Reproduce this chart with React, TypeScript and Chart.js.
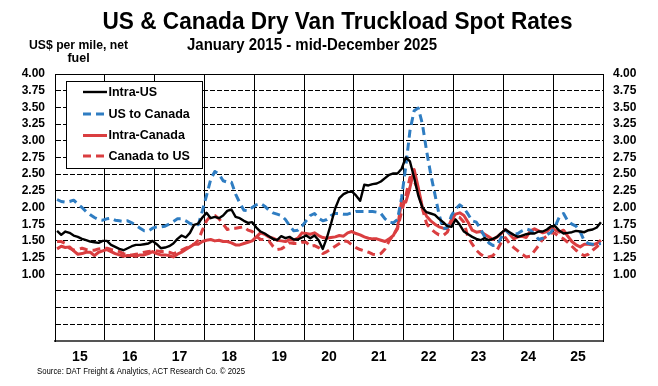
import React, { useEffect, useRef } from 'react';
import { Chart, registerables } from 'chart.js';

Chart.register(...registerables);

const FONT = '"Liberation Sans", Arial, Helvetica, sans-serif';

const TITLE = 'US & Canada Dry Van Truckload Spot Rates';
const SUBTITLE = 'January 2015 - mid-December 2025';
const Y_TITLE = ['US$ per mile, net', 'fuel'];
const SOURCE = 'Source: DAT Freight & Analytics, ACT Research Co. \u00a9 2025';

const START_YEAR = 2015;
const END_YEAR = 2026;
const yearLabels = ['15', '16', '17', '18', '19', '20', '21', '22', '23', '24', '25'];
const seriesNames = ['Intra-US', 'US to Canada', 'Intra-Canada', 'Canada to US'];

// Monthly values, Jan 2015 .. Dec 2025 (US$ per mile, net fuel)
const intraUS = [
  1.65, 1.59, 1.64, 1.62, 1.58, 1.56, 1.53, 1.51, 1.49, 1.48, 1.47, 1.50,
  1.50, 1.44, 1.41, 1.38, 1.36, 1.39, 1.42, 1.44, 1.44, 1.45, 1.46, 1.50,
  1.45, 1.39, 1.40, 1.42, 1.46, 1.53, 1.58, 1.55, 1.62, 1.74, 1.76, 1.85,
  1.92, 1.84, 1.86, 1.84, 1.88, 1.95, 1.97, 1.86, 1.84, 1.80, 1.77, 1.78,
  1.70, 1.64, 1.61, 1.57, 1.53, 1.51, 1.57, 1.54, 1.56, 1.52, 1.52, 1.55,
  1.58, 1.54, 1.58, 1.51, 1.38, 1.55, 1.76, 1.99, 2.14, 2.20, 2.23, 2.24,
  2.18, 2.10, 2.34, 2.33, 2.35, 2.36, 2.39, 2.44, 2.49, 2.51, 2.51, 2.58,
  2.75, 2.69, 2.45, 2.18, 2.00, 1.93, 1.91, 1.89, 1.83, 1.78, 1.72, 1.71,
  1.82, 1.74, 1.64, 1.60, 1.56, 1.53, 1.51, 1.54, 1.51, 1.53, 1.56, 1.62,
  1.67, 1.63, 1.59, 1.56, 1.58, 1.60, 1.61, 1.61, 1.64, 1.64, 1.67, 1.72,
  1.72, 1.65, 1.61, 1.62, 1.63, 1.65, 1.64, 1.63, 1.66, 1.67, 1.70, 1.78,
];

const usToCanada = [
  2.12, 2.09, 2.08, 2.09, 2.11, 2.05, 2.00, 1.94, 1.89, 1.85, 1.82, 1.81,
  1.83, 1.84, 1.81, 1.80, 1.79, 1.80, 1.77, 1.73, 1.69, 1.65, 1.65, 1.69,
  1.71, 1.71, 1.72, 1.75, 1.79, 1.83, 1.83, 1.80, 1.76, 1.74, 1.74, 1.95,
  2.18, 2.42, 2.54, 2.50, 2.40, 2.38, 2.38, 2.20, 2.07, 1.96, 1.95, 2.00,
  2.04, 2.06, 2.02, 1.96, 1.92, 1.90, 1.88, 1.82, 1.73, 1.65, 1.66, 1.72,
  1.80, 1.88, 1.91, 1.84, 1.80, 1.82, 1.88, 1.91, 1.91, 1.90, 1.90, 1.92,
  1.94, 1.94, 1.94, 1.94, 1.94, 1.93, 1.91, 1.83, 1.78, 1.77, 1.82, 2.15,
  2.62, 3.15, 3.45, 3.49, 3.25, 2.85, 2.50, 2.20, 1.90, 1.68, 1.70, 1.88,
  1.98, 2.04, 1.99, 1.90, 1.80, 1.78, 1.68, 1.56, 1.47, 1.43, 1.44, 1.55,
  1.66, 1.61, 1.60, 1.61, 1.65, 1.68, 1.66, 1.60, 1.52, 1.54, 1.59, 1.63,
  1.72, 1.86, 1.91, 1.80, 1.75, 1.72, 1.64, 1.50, 1.46, 1.45, 1.45, 1.46,
];

const intraCanada = [
  1.38, 1.42, 1.40, 1.41, 1.35, 1.30, 1.31, 1.33, 1.33, 1.28, 1.33, 1.35,
  1.37, 1.34, 1.31, 1.29, 1.27, 1.28, 1.28, 1.27, 1.29, 1.29, 1.31, 1.34,
  1.31, 1.29, 1.29, 1.28, 1.26, 1.30, 1.33, 1.37, 1.41, 1.45, 1.45, 1.49,
  1.51, 1.52, 1.50, 1.51, 1.49, 1.49, 1.47, 1.44, 1.44, 1.46, 1.48, 1.50,
  1.56, 1.62, 1.60, 1.56, 1.54, 1.51, 1.50, 1.49, 1.52, 1.51, 1.54, 1.62,
  1.61, 1.60, 1.62, 1.58, 1.55, 1.54, 1.55, 1.56, 1.58, 1.57, 1.62, 1.64,
  1.61, 1.59, 1.56, 1.54, 1.53, 1.53, 1.51, 1.49, 1.53, 1.58, 1.70, 2.10,
  2.08, 2.30, 2.57, 2.30, 2.00, 1.87, 1.80, 1.75, 1.71, 1.69, 1.68, 1.82,
  1.90, 1.92, 1.88, 1.78, 1.66, 1.63, 1.64, 1.60, 1.56, 1.52, 1.56, 1.61,
  1.67, 1.60, 1.53, 1.56, 1.57, 1.55, 1.65, 1.68, 1.65, 1.62, 1.64, 1.70,
  1.66, 1.63, 1.66, 1.57, 1.49, 1.44, 1.41, 1.45, 1.45, 1.44, 1.46, 1.51,
];

const canadaToUS = [
  1.49, 1.49, 1.46, 1.39, 1.36, 1.37, 1.39, 1.37, 1.36, 1.36, 1.38, 1.39,
  1.39, 1.37, 1.36, 1.34, 1.31, 1.29, 1.29, 1.30, 1.31, 1.33, 1.34, 1.35,
  1.35, 1.34, 1.34, 1.33, 1.31, 1.33, 1.36, 1.39, 1.42, 1.45, 1.51, 1.66,
  1.80, 1.87, 1.88, 1.83, 1.75, 1.67, 1.69, 1.69, 1.70, 1.71, 1.66, 1.64,
  1.57, 1.52, 1.52, 1.50, 1.42, 1.37, 1.38, 1.42, 1.47, 1.46, 1.46, 1.48,
  1.48, 1.42, 1.43, 1.40, 1.31, 1.34, 1.38, 1.42, 1.46, 1.50, 1.49, 1.44,
  1.40, 1.37, 1.35, 1.33, 1.30, 1.29, 1.31, 1.38, 1.50, 1.59, 1.68, 1.94,
  2.17, 2.45, 2.40, 2.25, 1.98, 1.76, 1.68, 1.63, 1.59, 1.58, 1.63, 1.78,
  1.87, 1.85, 1.78, 1.55, 1.45, 1.36, 1.30, 1.26, 1.26, 1.28, 1.36, 1.48,
  1.55, 1.46, 1.40, 1.35, 1.30, 1.26, 1.27, 1.35, 1.43, 1.53, 1.57, 1.62,
  1.61, 1.56, 1.53, 1.48, 1.42, 1.36, 1.31, 1.28, 1.30, 1.36, 1.41, 1.48,
];

const seriesValues = [intraUS, usToCanada, intraCanada, canadaToUS];
const seriesColors = ['#000000', '#2F7DC2', '#DA3E40', '#DA3E40'];
const seriesWidths = [2.4, 3, 3, 3];
const seriesDashes: number[][] = [[], [8, 5], [], [8, 5]];

const Y_MIN = 0;
const Y_MAX = 4;
const Y_STEP = 0.25;
const Y_LABEL_FROM = 1;

function toPoints(vals: number[]) {
  return vals.map((v, i) => ({ x: START_YEAR + (i + 0.5) / 12, y: v }));
}

function yTickValues() {
  const out: { value: number }[] = [];
  const n = Math.round((Y_MAX - Y_MIN) / Y_STEP);
  for (let k = 0; k <= n; k++) out.push({ value: Y_MIN + k * Y_STEP });
  return out;
}

function xTickValues() {
  const out: { value: number }[] = [];
  for (let y = START_YEAR; y <= END_YEAR; y++) out.push({ value: y });
  return out;
}

function fitText(ctx: CanvasRenderingContext2D, text: string, x: number, y: number, width: number, align: 'left' | 'center') {
  const w = ctx.measureText(text).width;
  const sx = width / w;
  ctx.save();
  ctx.translate(x, y);
  ctx.scale(sx, 1);
  ctx.textAlign = align;
  ctx.fillText(text, 0, 0);
  ctx.restore();
}

const decorPlugin = {
  id: 'decor',
  afterDraw(chart: any) {
    const { ctx, chartArea } = chart;
    ctx.save();
    // top frame line
    ctx.setLineDash([]);
    ctx.strokeStyle = '#000';
    ctx.lineWidth = 1;
    ctx.beginPath();
    ctx.moveTo(chartArea.left, Math.round(chartArea.top) + 0.5);
    ctx.lineTo(chartArea.right, Math.round(chartArea.top) + 0.5);
    ctx.stroke();

    ctx.fillStyle = '#000';
    ctx.textBaseline = 'middle';
    ctx.font = `bold 24px ${FONT}`;
    fitText(ctx, TITLE, 337.5, 22, 470, 'center');
    ctx.font = `bold 16px ${FONT}`;
    fitText(ctx, SUBTITLE, 312, 46, 250, 'center');
    ctx.font = `bold 12.5px ${FONT}`;
    fitText(ctx, Y_TITLE[0], 78.5, 46, 99, 'center');
    ctx.textAlign = 'center';
    ctx.fillText(Y_TITLE[1], 78.5, 59);
    ctx.font = `8.5px ${FONT}`;
    fitText(ctx, SOURCE, 37, 372, 208, 'left');

    // legend
    const bx = 66.5, by = 81.5, bw = 136, bh = 87;
    ctx.fillStyle = '#fff';
    ctx.fillRect(bx, by, bw, bh);
    ctx.strokeStyle = '#000';
    ctx.lineWidth = 1;
    ctx.strokeRect(bx, by, bw, bh);
    const rows = [92, 114, 135.5, 156];
    chart.data.datasets.forEach((ds: any, i: number) => {
      const y = rows[i];
      ctx.save();
      ctx.strokeStyle = ds.borderColor;
      ctx.lineWidth = ds.borderWidth;
      ctx.setLineDash(ds.borderDash || []);
      ctx.beginPath();
      ctx.moveTo(83, y);
      ctx.lineTo(107, y);
      ctx.stroke();
      ctx.restore();
      ctx.fillStyle = '#000';
      ctx.font = `bold 12.5px ${FONT}`;
      ctx.textAlign = 'left';
      ctx.textBaseline = 'middle';
      ctx.fillText(ds.label, 108.5, y + 0.5);
    });
    ctx.restore();
  },
};

export default function App() {
  const ref = useRef<HTMLCanvasElement | null>(null);

  useEffect(() => {
    if (!ref.current) return;
    const datasets = seriesNames.map((name, i) => ({
      label: name,
      data: toPoints(seriesValues[i]),
      borderColor: seriesColors[i],
      backgroundColor: seriesColors[i],
      borderWidth: seriesWidths[i],
      borderDash: seriesDashes[i],
      pointRadius: 0,
      tension: 0,
      fill: false,
      borderCapStyle: 'butt' as const,
      borderJoinStyle: 'round' as const,
      yAxisID: 'y',
      xAxisID: 'x',
    }));

    const yLabel = (v: any) => (Number(v) >= Y_LABEL_FROM - 1e-9 ? Number(v).toFixed(2) : '');

    const chart = new Chart(ref.current, {
      type: 'line',
      data: { datasets },
      plugins: [decorPlugin],
      options: {
        animation: false,
        responsive: false,
        devicePixelRatio: 1,
        layout: { padding: { top: 74, left: 0, right: 0, bottom: 0 } },
        plugins: {
          legend: { display: false },
          title: { display: false },
          tooltip: { enabled: false },
        },
        scales: {
          x: {
            type: 'linear',
            position: 'bottom',
            min: START_YEAR,
            max: END_YEAR,
            afterFit: (s: any) => { s.height = 45; },
            afterBuildTicks: (s: any) => { s.ticks = xTickValues(); },
            ticks: {
              autoSkip: false,
              maxRotation: 0,
              padding: 8,
              labelOffset: 24.9,
              color: '#000',
              font: { family: FONT, size: 14, weight: 'bold' },
              callback: (v: any) => {
                const idx = Math.round(Number(v)) - START_YEAR;
                return idx >= 0 && idx < yearLabels.length ? yearLabels[idx] : '';
              },
            },
            grid: { color: '#000', lineWidth: 1, drawTicks: false },
            border: { display: true, color: '#555', width: 2 },
          },
          y: {
            type: 'linear',
            position: 'left',
            min: Y_MIN,
            max: Y_MAX,
            afterFit: (s: any) => { s.width = 55; },
            afterBuildTicks: (s: any) => { s.ticks = yTickValues(); },
            ticks: {
              autoSkip: false,
              padding: 10,
              color: '#000',
              font: { family: FONT, size: 12, weight: 'bold' },
              callback: yLabel,
            },
            grid: { color: '#000', lineWidth: 1, drawTicks: false },
            border: { display: true, color: '#000', width: 1, dash: [5, 2] },
          },
          y2: {
            type: 'linear',
            position: 'right',
            min: Y_MIN,
            max: Y_MAX,
            afterFit: (s: any) => { s.width = 55; },
            afterBuildTicks: (s: any) => { s.ticks = yTickValues(); },
            ticks: {
              autoSkip: false,
              padding: 10,
              color: '#000',
              font: { family: FONT, size: 12, weight: 'bold' },
              callback: yLabel,
            },
            grid: { display: false, drawTicks: false },
            border: { display: true, color: '#000', width: 1 },
          },
        },
      },
    });
    return () => chart.destroy();
  }, []);

  return (
    <div style={{ position: 'fixed', left: 0, top: 0, width: 658, height: 386, background: '#fff' }}>
      <canvas ref={ref} width={658} height={386} style={{ display: 'block', width: 658, height: 386 }} />
    </div>
  );
}
